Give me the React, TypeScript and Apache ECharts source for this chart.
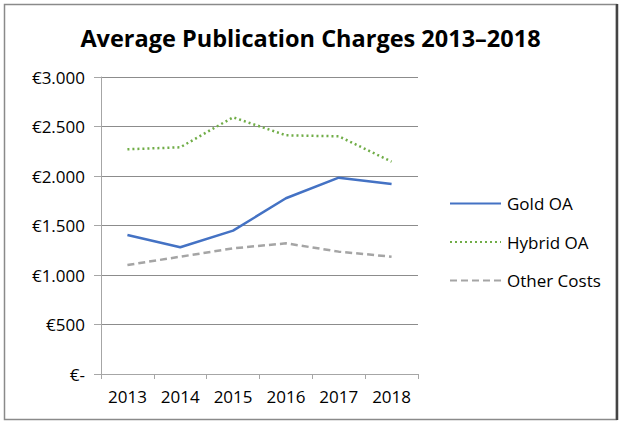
import React, { useEffect, useRef } from "react";
import * as echarts from "echarts";

const years = ["2013", "2014", "2015", "2016", "2017", "2018"];
const goldOA = [1404, 1280, 1448, 1775, 1983, 1919];
const hybridOA = [2270, 2290, 2593, 2411, 2401, 2145];
const otherCosts = [1101, 1185, 1269, 1320, 1236, 1185];
const yTicks = [0, 500, 1000, 1500, 2000, 2500, 3000];

const FONT = "Open Sans";

function fmt(v: number): string {
  if (v === 0) return "€-";
  const s = String(Math.round(v));
  return "€" + s.replace(/\B(?=(\d{3})+(?!\d))/g, ".");
}

export default function App() {
  const ref = useRef<HTMLDivElement>(null);
  useEffect(() => {
    if (!ref.current) return;
    const chart = echarts.init(ref.current, undefined, { renderer: "svg" });
    chart.setOption({
      animation: false,
      backgroundColor: "#fff",
      textStyle: { fontFamily: FONT },
      title: {
        text: "Average Publication Charges 2013–2018",
        left: "center",
        top: 21,
        textStyle: { fontFamily: FONT, fontSize: 23.5, fontWeight: "bold", color: "#000" },
      },
      grid: { left: 101, top: 77, right: 203, bottom: 49, containLabel: false },
      legend: {
        orient: "vertical",
        left: 444,
        top: 190,
        itemWidth: 51,
        itemHeight: 14,
        itemGap: 21.5,
        itemStyle: { opacity: 0 },
        textStyle: { fontFamily: FONT, fontSize: 17, color: "#000", padding: [0, 0, 0, 1] },
        data: ["Gold OA", "Hybrid OA", "Other Costs"],
      },
      xAxis: {
        type: "category",
        data: years,
        boundaryGap: true,
        axisLine: { lineStyle: { color: "#a6a6a6", width: 1 } },
        axisTick: { show: true, length: 5, lineStyle: { color: "#a6a6a6" } },
        axisLabel: { fontFamily: FONT, fontSize: 17, color: "#000", margin: 14 },
        splitLine: { show: false },
      },
      yAxis: {
        type: "value",
        min: yTicks[0],
        max: yTicks[yTicks.length - 1],
        interval: 500,
        axisLine: { show: true, lineStyle: { color: "#a6a6a6", width: 1 } },
        axisTick: { show: true, length: 7, lineStyle: { color: "#a6a6a6" } },
        axisLabel: { fontFamily: FONT, fontSize: 17, color: "#000", margin: 16, formatter: fmt },
        splitLine: { show: true, lineStyle: { color: "#8c8c8c", width: 1 } },
      },
      series: [
        {
          name: "Gold OA",
          type: "line",
          data: goldOA,
          symbol: "none",
          lineStyle: { color: "#4472C4", width: 2.5, type: "solid" },
          itemStyle: { color: "#4472C4" },
        },
        {
          name: "Hybrid OA",
          type: "line",
          data: hybridOA,
          symbol: "none",
          lineStyle: { color: "#70AD47", width: 2.5, type: [2, 3] },
          itemStyle: { color: "#70AD47" },
        },
        {
          name: "Other Costs",
          type: "line",
          data: otherCosts,
          symbol: "none",
          lineStyle: { color: "#A5A5A5", width: 2.5, type: [7, 4] },
          itemStyle: { color: "#A5A5A5" },
        },
      ],
      graphic: [
        {
          type: "rect",
          shape: { x: 4.5, y: 4.5, width: 612, height: 415 },
          style: { fill: "none", stroke: "#8a8a8a", lineWidth: 1.5 },
          silent: true,
        },
        {
          type: "line",
          shape: { x1: 617, y1: 4, x2: 617, y2: 420 },
          style: { stroke: "#444", lineWidth: 2.5 },
          silent: true,
        },
      ],
    });
    return () => chart.dispose();
  }, []);
  return (
    <div
      ref={ref}
      style={{ position: "fixed", left: 0, top: 0, width: 621, height: 423 }}
    />
  );
}
